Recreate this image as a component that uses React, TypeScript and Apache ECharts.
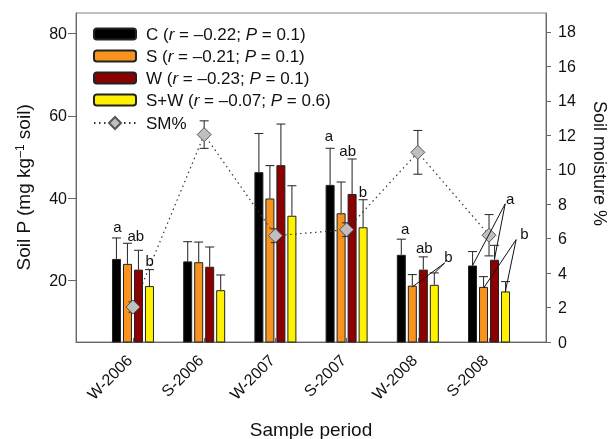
import React, { useEffect, useRef } from 'react';
import * as echarts from 'echarts';

const CATEGORIES = ['W-2006', 'S-2006', 'W-2007', 'S-2007', 'W-2008', 'S-2008'];
const SERIES_NAMES = ['C', 'S', 'W', 'S+W'];
const R_VALUES = ['–0.22', '–0.21', '–0.23', '–0.07'];
const P_VALUES = ['0.1', '0.1', '0.1', '0.6'];

const C_MEAN = [25.2, 24.6, 46.3, 43.2, 26.2, 23.6];
const C_ERR = [5.1, 4.8, 9.4, 8.9, 3.8, 3.4];
const S_MEAN = [24.0, 24.4, 39.9, 36.3, 18.7, 18.4];
const S_ERR = [5.0, 4.9, 8.0, 7.6, 2.7, 2.5];
const W_MEAN = [22.6, 23.3, 48.0, 41.0, 22.6, 25.0];
const W_ERR = [4.7, 4.8, 10.0, 8.5, 3.1, 3.5];
const SW_MEAN = [18.6, 17.6, 35.7, 32.9, 18.9, 17.3];
const SW_ERR = [4.0, 3.7, 7.3, 6.7, 2.9, 2.4];

const SM_NAME = 'SM%';
const SM_MEAN = [2.03, 12.04, 6.17, 6.52, 11.01, 6.2];
const SM_ERR = [0.3, 0.8, 0.4, 0.4, 1.27, 1.2];

const Y_LEFT_TICKS = [20, 40, 60, 80];
const Y_RIGHT_TICKS = [0, 2, 4, 6, 8, 10, 12, 14, 16, 18];

// significance letters (positions in data units: x = category position, y = soil P)
const LETTER_TEXT = ['a', 'ab', 'b', 'a', 'ab', 'b', 'a', 'ab', 'b', 'a', 'b'];
const LETTER_X = [0.78, 1.039, 1.234, 3.753, 4.015, 4.23, 4.822, 5.091, 5.428, 6.297, 6.498];
const LETTER_Y = [33.1, 30.9, 24.8, 55.1, 51.5, 41.5, 32.5, 27.9, 25.9, 39.8, 31.3];

// leader lines from letters to bars: [x1, y1, x2, y2] in data units
const LEADERS = [
  [5.376, 24.2, 4.924, 18.4],
  [5.376, 24.2, 5.236, 21.8],
  [6.227, 38.6, 5.769, 23.6],
  [6.227, 38.6, 6.077, 25.2],
  [6.381, 29.9, 5.923, 18.1],
  [6.381, 29.9, 6.227, 17.1],
];

const MEANS = [C_MEAN, S_MEAN, W_MEAN, SW_MEAN];
const ERRS = [C_ERR, S_ERR, W_ERR, SW_ERR];
const COLORS = ['#000000', '#F7931E', '#8B0000', '#FFF200'];

const FONT = 'Arial, "Liberation Sans", sans-serif';
const BW = 9;
const GAP = 2;
const offsetOf = (k: number) => -(4 * BW + 3 * GAP) / 2 + BW / 2 + k * (BW + GAP);

export default function App() {
  const ref = useRef<HTMLDivElement>(null);
  useEffect(() => {
    const chart = echarts.init(ref.current!, null, { renderer: 'svg' });

    const barSeries = SERIES_NAMES.map((name, k) => ({
      name,
      type: 'bar',
      xAxisIndex: 0,
      yAxisIndex: 0,
      barWidth: BW,
      barGap: (GAP / BW) * 100 + '%',
      clip: true,
      z: 2,
      itemStyle: { color: COLORS[k], borderColor: '#222', borderWidth: 1 },
      data: MEANS[k].map((v, i) => [i + 1, v]),
    }));

    const errData: number[][] = [];
    MEANS.forEach((arr, k) => arr.forEach((v, i) => errData.push([i + 1, v, ERRS[k][i], k])));

    const errStyle = { stroke: '#333', lineWidth: 1.1 };

    const legendText = {
      fontSize: 17,
      color: '#111',
      lineHeight: 18,
      padding: [0, 0, 0, 5],
      fontFamily: FONT,
      rich: { i: { fontStyle: 'italic', fontSize: 17, fontFamily: FONT, color: '#111' } },
    };

    const option: any = {
      animation: false,
      textStyle: { fontFamily: FONT },
      grid: {
        left: 76,
        right: 63,
        top: 13,
        bottom: 97,
        show: true,
        borderColor: '#808080',
        borderWidth: 1,
        outerBoundsMode: 'none',
        containLabel: false,
      },
      legend: [
        {
          orient: 'vertical',
          left: 93,
          top: 25,
          padding: 0,
          itemWidth: 42,
          itemHeight: 11,
          itemGap: 4,
          data: SERIES_NAMES,
          formatter: (name: string) => {
            const k = SERIES_NAMES.indexOf(name);
            if (k < 0) return name;
            return `${name} ({i|r} = ${R_VALUES[k]}; {i|P} = ${P_VALUES[k]})`;
          },
          textStyle: legendText,
        },
        {
          orient: 'vertical',
          left: 93,
          top: 114,
          padding: 0,
          itemWidth: 42,
          itemHeight: 15,
          data: [SM_NAME],
          textStyle: legendText,
        },
      ],
      xAxis: {
        type: 'value',
        min: 0.2,
        max: 6.8,
        name: 'Sample period',
        nameLocation: 'middle',
        nameGap: 78,
        nameTextStyle: { fontSize: 19, color: '#111', fontFamily: FONT },
        axisLine: { lineStyle: { color: '#666', width: 1 } },
        axisTick: { customValues: [1, 2, 3, 4, 5, 6], inside: true, length: 4, lineStyle: { color: '#666' } },
        axisLabel: {
          customValues: [1, 2, 3, 4, 5, 6],
          formatter: (v: number) => CATEGORIES[Math.round(v) - 1] ?? '',
          rotate: 45,
          margin: 12,
          padding: [0, 5, 0, 0],
          fontSize: 16,
          color: '#111',
          fontFamily: FONT,
        },
        splitLine: { show: false },
      },
      yAxis: [
        {
          type: 'value',
          min: 5,
          max: 85,
          position: 'left',
          name: 'Soil P (mg kg{sup|–1} soil)',
          nameLocation: 'middle',
          nameGap: 43,
          nameRotate: 90,
          nameTextStyle: {
            fontSize: 19,
            color: '#111',
            fontFamily: FONT,
            padding: [0, 20, 0, 0],
            rich: { sup: { fontSize: 12, verticalAlign: 'top', color: '#111', fontFamily: FONT, padding: [0, 0, 6, 0] } },
          },
          axisLine: { show: true, lineStyle: { color: '#666', width: 1 } },
          axisTick: { show: true, customValues: Y_LEFT_TICKS, length: 8, lineStyle: { color: '#666' } },
          axisLabel: { customValues: Y_LEFT_TICKS, margin: 9, fontSize: 16, color: '#111', fontFamily: FONT },
          splitLine: { show: false },
        },
        {
          type: 'value',
          min: 0,
          max: 19.1,
          position: 'right',
          name: 'Soil moisture %',
          nameLocation: 'middle',
          nameGap: 45,
          nameRotate: -90,
          nameTextStyle: { fontSize: 18, color: '#111', fontFamily: FONT, padding: [0, 28, 0, 0] },
          axisLine: { show: true, lineStyle: { color: '#666', width: 1 } },
          axisTick: { show: true, customValues: Y_RIGHT_TICKS, length: 5, lineStyle: { color: '#666' } },
          axisLabel: { customValues: Y_RIGHT_TICKS, margin: 12, fontSize: 16, color: '#111', fontFamily: FONT },
          splitLine: { show: false },
        },
      ],
      series: [
        ...barSeries,
        {
          type: 'custom',
          name: 'errbars',
          xAxisIndex: 0,
          yAxisIndex: 0,
          z: 3,
          encode: { x: 0, y: 1 },
          data: errData,
          renderItem: (_p: any, api: any) => {
            const x = api.value(0);
            const top = api.value(1);
            const err = api.value(2);
            const k = api.value(3);
            const b = api.coord([x, top]);
            const t = api.coord([x, top + err]);
            const cx = b[0] + offsetOf(k);
            return {
              type: 'group',
              children: [
                { type: 'line', shape: { x1: cx, y1: b[1], x2: cx, y2: t[1] }, style: errStyle },
                { type: 'line', shape: { x1: cx - 4.5, y1: t[1], x2: cx + 4.5, y2: t[1] }, style: errStyle },
              ],
            };
          },
        },
        {
          type: 'custom',
          name: 'smerr',
          xAxisIndex: 0,
          yAxisIndex: 1,
          z: 4,
          encode: { x: 0, y: 1 },
          data: SM_MEAN.map((v, i) => [i + 1, v, SM_ERR[i]]),
          renderItem: (_p: any, api: any) => {
            const x = api.value(0);
            const v = api.value(1);
            const e = api.value(2);
            const hi = api.coord([x, v + e]);
            const lo = api.coord([x, v - e]);
            return {
              type: 'group',
              children: [
                { type: 'line', shape: { x1: hi[0], y1: hi[1], x2: lo[0], y2: lo[1] }, style: errStyle },
                { type: 'line', shape: { x1: hi[0] - 4.5, y1: hi[1], x2: hi[0] + 4.5, y2: hi[1] }, style: errStyle },
                { type: 'line', shape: { x1: lo[0] - 4.5, y1: lo[1], x2: lo[0] + 4.5, y2: lo[1] }, style: errStyle },
              ],
            };
          },
        },
        {
          type: 'line',
          name: SM_NAME,
          xAxisIndex: 0,
          yAxisIndex: 1,
          z: 5,
          symbol: 'diamond',
          symbolSize: 14,
          lineStyle: { type: [1.5, 3.5], color: '#333', width: 1.2 },
          itemStyle: { color: '#BFBFBF', borderColor: '#555', borderWidth: 1 },
          data: SM_MEAN.map((v, i) => [i + 1, v]),
        },
        {
          type: 'custom',
          name: 'leaders',
          xAxisIndex: 0,
          yAxisIndex: 0,
          z: 6,
          encode: { x: 0, y: 1 },
          data: LEADERS,
          renderItem: (_p: any, api: any) => {
            const a = api.coord([api.value(0), api.value(1)]);
            const b = api.coord([api.value(2), api.value(3)]);
            return {
              type: 'line',
              shape: { x1: a[0], y1: a[1], x2: b[0], y2: b[1] },
              style: { stroke: '#111', lineWidth: 1 },
            };
          },
        },
        {
          type: 'custom',
          name: 'letters',
          xAxisIndex: 0,
          yAxisIndex: 0,
          z: 6,
          encode: { x: 0, y: 1 },
          data: LETTER_X.map((x, i) => [x, LETTER_Y[i]]),
          renderItem: (p: any, api: any) => {
            const c = api.coord([api.value(0), api.value(1)]);
            return {
              type: 'text',
              x: c[0],
              y: c[1],
              style: {
                text: LETTER_TEXT[p.dataIndex],
                fill: '#111',
                font: `15px ${FONT}`,
                align: 'center',
                verticalAlign: 'middle',
              },
            };
          },
        },
      ],
    };

    chart.setOption(option);
    return () => chart.dispose();
  }, []);

  return <div ref={ref} style={{ position: 'fixed', left: 0, top: 0, width: 609, height: 439 }} />;
}
